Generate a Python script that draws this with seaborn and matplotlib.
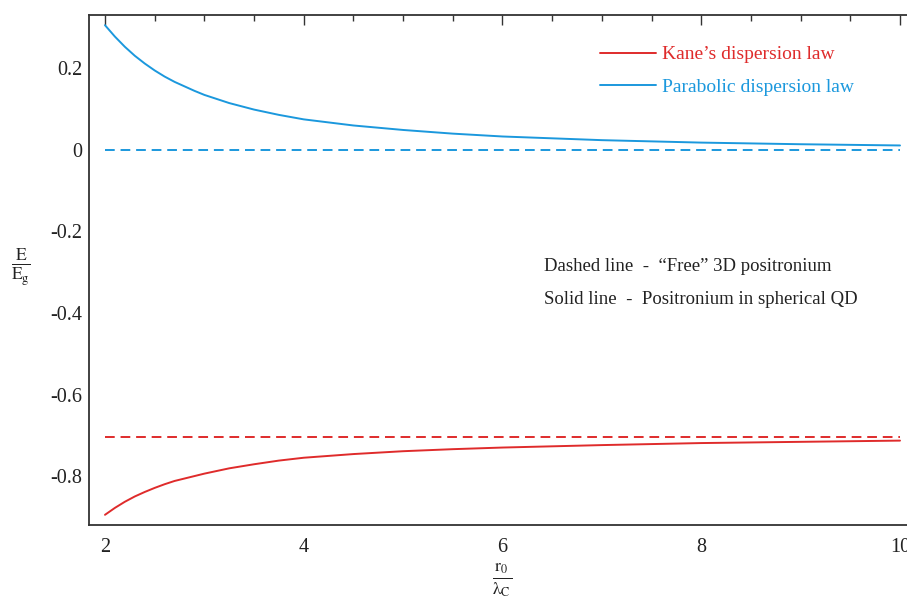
import matplotlib
matplotlib.use("Agg")
import matplotlib.pyplot as plt
from matplotlib.ticker import MultipleLocator, FuncFormatter
import seaborn as sns
import pandas as pd

# ---- data ----
r_ratio = [2.0, 2.1, 2.2, 2.3, 2.4, 2.5, 2.6, 2.7, 2.8, 2.9, 3.0, 3.25, 3.5, 3.75, 4.0, 4.5,
           5.0, 5.5, 6.0, 7.0, 8.0, 9.0, 10.0]
parabolic_qd = [0.306, 0.278, 0.253, 0.231, 0.212, 0.195, 0.180, 0.167, 0.156, 0.145, 0.135,
                0.115, 0.099, 0.086, 0.075, 0.060, 0.049, 0.040, 0.033, 0.024, 0.018, 0.014, 0.011]
kane_qd = [-0.895, -0.878, -0.863, -0.850, -0.839, -0.829, -0.820, -0.812, -0.806, -0.800,
           -0.794, -0.781, -0.771, -0.762, -0.755, -0.746, -0.739, -0.734, -0.730, -0.724,
           -0.719, -0.716, -0.713]
free_x = [2.0, 10.0]
parabolic_free = [0.0, 0.0]
kane_free = [-0.704, -0.704]

legend_labels = ["Kane\u2019s dispersion law", "Parabolic dispersion law"]
note_lines = ["Dashed line  -  \u201cFree\u201d 3D positronium",
              "Solid line  -  Positronium in spherical QD"]

RED = "#df2b2b"
BLUE = "#1b98dd"

sns.set_style("white")
plt.rcParams["font.family"] = ["Liberation Serif", "DejaVu Serif"]
plt.rcParams["mathtext.fontset"] = "stix"
plt.rcParams["lines.solid_joinstyle"] = "round"

fig = plt.figure(figsize=(9.07, 6.01), dpi=100)
W, H = 907, 601
left_px, right_px, top_px, bot_px = 89, 910, 15, 525
ax = fig.add_axes([left_px / W, 1 - bot_px / H, (right_px - left_px) / W, (bot_px - top_px) / H])

df_qd = pd.DataFrame({"x": r_ratio, "kane": kane_qd, "para": parabolic_qd})
df_free = pd.DataFrame({"x": free_x, "kane": kane_free, "para": parabolic_free})

sns.lineplot(data=df_qd, x="x", y="kane", ax=ax, color=RED, lw=1.4, label=legend_labels[0])
sns.lineplot(data=df_qd, x="x", y="para", ax=ax, color=BLUE, lw=1.4, label=legend_labels[1])
sns.lineplot(data=df_free, x="x", y="kane", ax=ax, color=RED, lw=1.4, linestyle=(0, (5, 3)))
sns.lineplot(data=df_free, x="x", y="para", ax=ax, color=BLUE, lw=1.4, linestyle=(0, (5, 3)))

ax.set_xlim(2 - 16 / 99.5, 10 + (right_px - 900) / 99.5)
ax.set_ylim(-0.92, 0.331)

ax.xaxis.set_major_locator(MultipleLocator(2))
ax.xaxis.set_minor_locator(MultipleLocator(0.5))
ax.yaxis.set_major_locator(MultipleLocator(0.2))
ax.yaxis.set_minor_locator(MultipleLocator(0.05))
ax.xaxis.set_major_formatter(FuncFormatter(lambda v, p: f"{v:g}"))
ax.yaxis.set_major_formatter(FuncFormatter(lambda v, p: "0" if abs(v) < 1e-9 else f"{v:.1f}"))

ax.tick_params(which="both", direction="in", top=True, right=False, colors="#333333",
               labelcolor="#222222", labelsize=14.5, width=1.0)
ax.tick_params(which="major", length=7)
ax.tick_params(axis="y", which="major", pad=5)
ax.tick_params(axis="x", which="major", pad=9)
ax.tick_params(which="minor", length=4)
for s in ["left", "bottom", "top"]:
    ax.spines[s].set_color("#333333")
    ax.spines[s].set_linewidth(1.3)
ax.spines["right"].set_visible(False)

ax.set_xlabel("")
ax.set_ylabel("")
fig.text(21 / W, 1 - 267 / H, r"$\frac{\mathrm{E}}{\mathrm{E_g}}$", fontsize=18,
         ha="center", va="center", color="#222222")
fig.text(502 / W, 1 - 580 / H, r"$\frac{\mathrm{r_0}}{\mathrm{\lambda_C}}$", fontsize=18,
         ha="center", va="center", color="#222222")

leg = ax.legend(loc="upper left", bbox_to_anchor=(592 / W, 1 - 38 / H),
                bbox_transform=fig.transFigure, frameon=False, fontsize=14,
                handlelength=2.9, handletextpad=0.3, labelspacing=0.75,
                labelcolor="linecolor", borderaxespad=0)

fig.text(544 / W, 1 - 266 / H, note_lines[0], fontsize=13.5, color="#222222", va="center")
fig.text(544 / W, 1 - 299 / H, note_lines[1], fontsize=13.5, color="#222222", va="center")

fig.savefig("out.png", dpi=100)
